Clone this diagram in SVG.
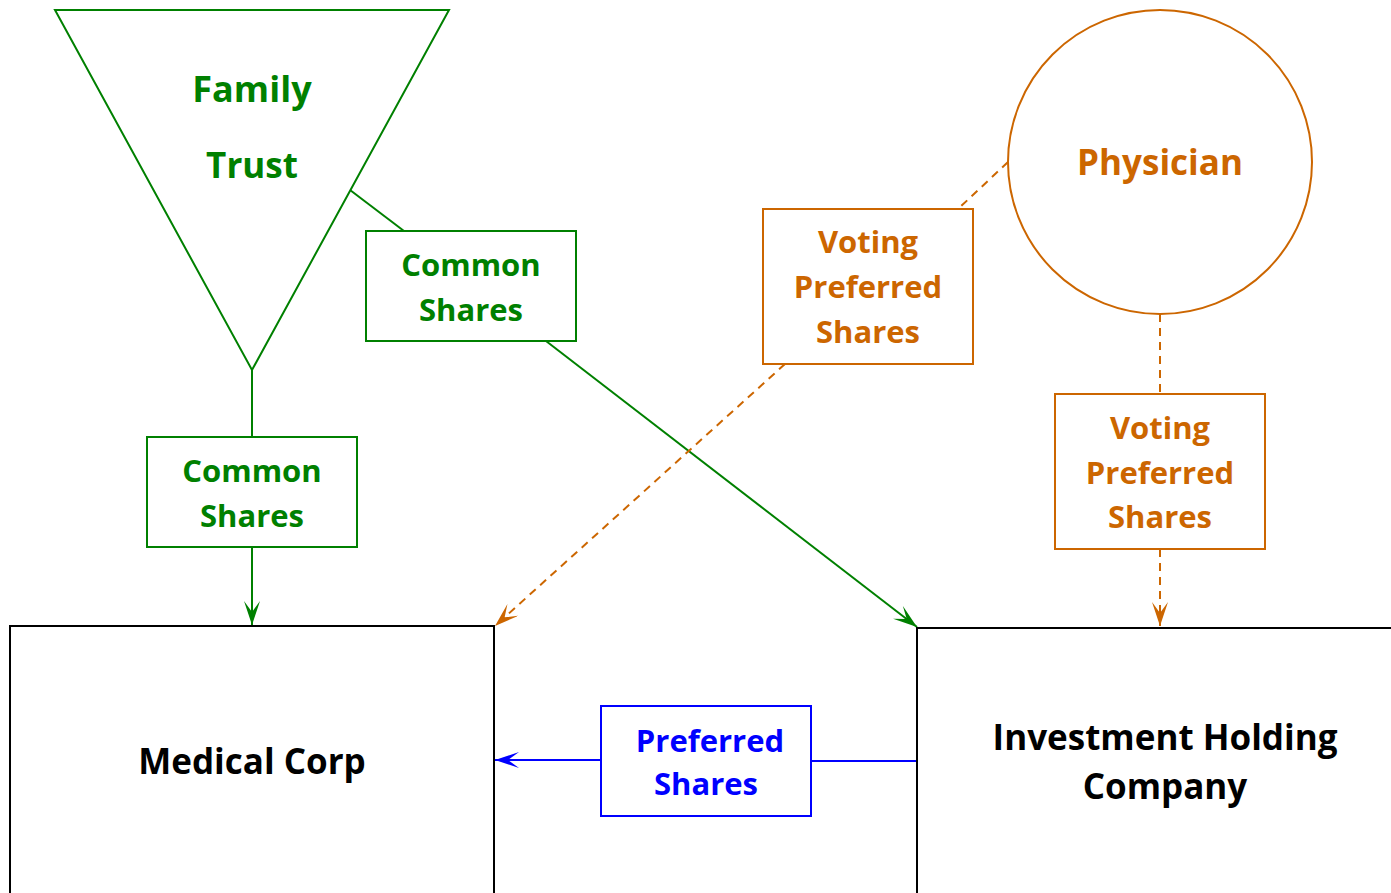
<svg xmlns="http://www.w3.org/2000/svg" width="1391" height="893" viewBox="0 0 1391 893">
  <style>
    text { font-family: "Open Sans", Lato, "Liberation Sans", sans-serif; font-weight: bold; text-anchor: middle; font-size: 31px; }
    .big { font-size: 35px; }
    .title { font-size: 36px; }
    .g { fill: #008000; }
    .o { fill: #CC6600; }
    .b { fill: #0000FF; }
    .k { fill: #000000; }
    .shape-g { fill: #ffffff; stroke: #008000; stroke-width: 2; }
    .shape-o { fill: #ffffff; stroke: #CC6600; stroke-width: 2; }
    .shape-b { fill: #ffffff; stroke: #0000FF; stroke-width: 2; }
    .shape-k { fill: #ffffff; stroke: #000000; stroke-width: 2; }
    .line-g { fill: none; stroke: #008000; stroke-width: 2; }
    .line-o { fill: none; stroke: #CC6600; stroke-width: 2; stroke-dasharray: 8 6; }
    .line-b { fill: none; stroke: #0000FF; stroke-width: 2; }
  </style>
  <defs>
    <marker id="arrow-g" viewBox="0 0 24 16" refX="24" refY="8" markerWidth="24" markerHeight="16" markerUnits="userSpaceOnUse" orient="auto">
      <path d="M0,0 L24,8 L0,16 L11,8 Z" fill="#008000"/>
    </marker>
    <marker id="arrow-o" viewBox="0 0 24 16" refX="24" refY="8" markerWidth="24" markerHeight="16" markerUnits="userSpaceOnUse" orient="auto">
      <path d="M0,0 L24,8 L0,16 L11,8 Z" fill="#CC6600"/>
    </marker>
    <marker id="arrow-b" viewBox="0 0 24 16" refX="24" refY="8" markerWidth="24" markerHeight="16" markerUnits="userSpaceOnUse" orient="auto">
      <path d="M0,0 L24,8 L0,16 L11,8 Z" fill="#0000FF"/>
    </marker>
  </defs>

  <rect width="1391" height="893" fill="#ffffff"/>

  <!-- connectors -->
  <g id="connectors">
    <line class="line-g" x1="252" y1="370" x2="252" y2="437"/>
    <line class="line-g" x1="252" y1="547" x2="252" y2="625" marker-end="url(#arrow-g)"/>
    <line class="line-g" x1="350" y1="190" x2="404" y2="231"/>
    <line class="line-g" x1="546" y1="341" x2="917" y2="627" marker-end="url(#arrow-g)"/>
    <line class="line-o" x1="1008" y1="162" x2="958" y2="209"/>
    <line class="line-o" x1="785" y1="364" x2="495" y2="626" marker-end="url(#arrow-o)"/>
    <line class="line-o" x1="1160" y1="314" x2="1160" y2="394"/>
    <line class="line-o" x1="1160" y1="549" x2="1160" y2="626" marker-end="url(#arrow-o)"/>
    <line class="line-b" x1="917" y1="761" x2="811" y2="761"/>
    <line class="line-b" x1="601" y1="760" x2="495" y2="760" marker-end="url(#arrow-b)"/>
  </g>

  <!-- nodes -->
  <g id="family-trust">
    <polygon class="shape-g" points="55,10 449,10 252,370"/>
    <text class="g title" x="252" y="102">Family</text>
    <text class="g big" x="252" y="178">Trust</text>
  </g>

  <g id="common-shares-direct">
    <rect class="shape-g" x="147" y="437" width="210" height="110"/>
    <text class="g" x="252" y="482">Common</text>
    <text class="g" x="252" y="527">Shares</text>
  </g>

  <g id="common-shares-holding">
    <rect class="shape-g" x="366" y="231" width="210" height="110"/>
    <text class="g" x="471" y="276">Common</text>
    <text class="g" x="471" y="321">Shares</text>
  </g>

  <g id="physician">
    <circle class="shape-o" cx="1160" cy="162" r="152"/>
    <text class="o big" x="1160" y="175">Physician</text>
  </g>

  <g id="voting-preferred-medical">
    <rect class="shape-o" x="763" y="209" width="210" height="155"/>
    <text class="o" x="868" y="253">Voting</text>
    <text class="o" x="868" y="298">Preferred</text>
    <text class="o" x="868" y="343">Shares</text>
  </g>

  <g id="voting-preferred-holding">
    <rect class="shape-o" x="1055" y="394" width="210" height="155"/>
    <text class="o" x="1160" y="439">Voting</text>
    <text class="o" x="1160" y="484">Preferred</text>
    <text class="o" x="1160" y="528">Shares</text>
  </g>

  <g id="medical-corp">
    <rect class="shape-k" x="10" y="626" width="484" height="280"/>
    <text class="k big" x="252" y="774">Medical Corp</text>
  </g>

  <g id="investment-holding">
    <rect class="shape-k" x="917" y="628" width="490" height="280"/>
    <text class="k big" x="1165" y="750">Investment Holding</text>
    <text class="k big" x="1165" y="799">Company</text>
  </g>

  <g id="preferred-shares">
    <rect class="shape-b" x="601" y="706" width="210" height="110"/>
    <text class="b" x="710" y="752">Preferred</text>
    <text class="b" x="706" y="795">Shares</text>
  </g>
</svg>
